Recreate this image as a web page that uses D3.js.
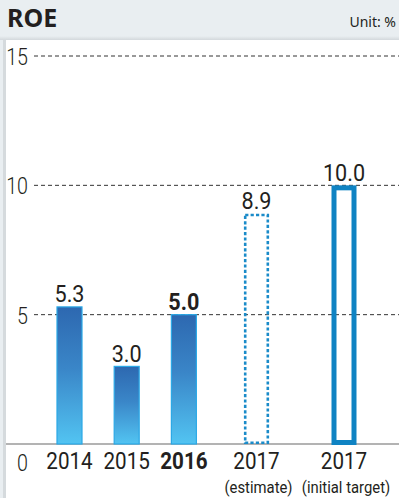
<!DOCTYPE html>
<html><head><meta charset="utf-8">
<script src="https://cdn.jsdelivr.net/npm/d3@7"></script>
<style>
html,body{margin:0;padding:0;background:#e9eef1;}
svg{display:block;}
text{font-family:"Roboto","Noto Sans",sans-serif;fill:#231f20;}
</style></head>
<body>
<svg id="chart" width="399" height="498"></svg>
<script>
const categories = ["2014", "2015", "2016", "2017", "2017"];
const subLabels = ["", "", "", "(estimate)", "(initial target)"];
const values = [5.3, 3.0, 5.0, 8.9, 10.0];
const valueLabels = ["5.3", "3.0", "5.0", "8.9", "10.0"];
const barStyles = ["solid", "solid", "bold", "dotted", "target"];
const yTicks = [0, 5, 10, 15];

const W = 399, H = 498;
const svg = d3.select("#chart");

// condensed text helper (horizontal squeeze around anchor point)
function ctext(g, x, y, str, size, weight, sx, anchor, color) {
  return g.append("text")
    .attr("transform", `translate(${x},${y}) scale(${sx},1)`)
    .attr("text-anchor", anchor || "middle")
    .style("font-size", size + "px")
    .style("font-weight", weight || "400")
    .attr("fill", color || "#231f20")
    .text(str);
}

const defs = svg.append("defs");
const grad = defs.append("linearGradient").attr("id", "barGrad")
  .attr("x1", 0).attr("y1", 0).attr("x2", 0).attr("y2", 1);
grad.append("stop").attr("offset", "0%").attr("stop-color", "#2d68b0");
grad.append("stop").attr("offset", "45%").attr("stop-color", "#3a86c8");
grad.append("stop").attr("offset", "100%").attr("stop-color", "#52c4f2");
const sh = defs.append("linearGradient").attr("id", "shadowTop").attr("x1",0).attr("y1",0).attr("x2",0).attr("y2",1);
sh.append("stop").attr("offset","0%").attr("stop-color","#e9eef1");
sh.append("stop").attr("offset","100%").attr("stop-color","#d3d8dc");

svg.append("rect").attr("x", 0).attr("y", 0).attr("width", W).attr("height", H).attr("fill", "#e9eef1");
svg.append("rect").attr("x", 0).attr("y", 36).attr("width", W).attr("height", 4).attr("fill", "url(#shadowTop)");
svg.append("rect").attr("x", 3).attr("y", 40).attr("width", 3).attr("height", H - 40).attr("fill", "#d5dadd");
svg.append("rect").attr("x", 6).attr("y", 40).attr("width", W - 6).attr("height", H - 40).attr("fill", "#ffffff");

// title
svg.append("text").attr("x", 7).attr("y", 27).text("ROE")
  .style("font-family", "'Noto Sans',sans-serif").style("font-weight", "700").style("font-size", "25px");
svg.append("text").attr("x", 396).attr("y", 27).attr("text-anchor", "end").text("Unit: %")
  .style("font-family", "'Noto Sans',sans-serif").style("font-size", "14px");

// scales
const y = d3.scaleLinear().domain([0, 15]).range([444, 56]);
// slot weights for uneven category spacing (layout, not data)
const slotGaps = [0, 1, 1, 1.27, 1.53];
const cum = d3.cumsum(slotGaps);
const x = d3.scaleLinear().domain([0, cum[cum.length - 1]]).range([69.5, 344]);
const cx = i => x(cum[i]);
const bw = 25;

// gridlines
const grid = svg.append("g");
yTicks.filter(t => t > 0).forEach(t => {
  grid.append("line").attr("x1", 34).attr("x2", 399).attr("y1", y(t)).attr("y2", y(t))
    .attr("stroke", "#333").attr("stroke-width", 1).attr("stroke-dasharray", "4,3");
});
// baseline
svg.append("line").attr("x1", 6).attr("x2", 399).attr("y1", y(0)).attr("y2", y(0))
  .attr("stroke", "#9a9a9a").attr("stroke-width", 1.5);

// y axis labels
const yAxis = d3.axisLeft(y).tickValues(yTicks).tickSize(0).tickPadding(0);
const yg = svg.append("g").attr("transform", "translate(28,0)").call(yAxis);
yg.select(".domain").remove();
yg.selectAll(".tick text").each(function(d) {
  const t = d3.select(this);
  t.attr("x", null).attr("dy", null)
    .attr("transform", `translate(0,${d === 0 ? 26 : 8.5}) scale(0.82,1)`)
    .attr("text-anchor", "end")
    .attr("fill", "#333")
    .style("font-size", "24px").style("font-weight", "300").style("font-family", "Roboto,sans-serif");
});

// bars
const bars = svg.append("g");
const labels = svg.append("g");
values.forEach((v, i) => {
  const style = barStyles[i];
  const c = cx(i);
  if (style === "solid" || style === "bold") {
    bars.append("rect").attr("x", c - bw / 2).attr("y", y(v)).attr("width", bw).attr("height", y(0) - y(v))
      .attr("fill", "url(#barGrad)").attr("stroke", "#2aa8e6").attr("stroke-width", 1.2);
  } else if (style === "dotted") {
    bars.append("rect").attr("x", c - bw / 2 + 1.2).attr("y", y(v) + 1.2).attr("width", bw - 2.4).attr("height", y(0) - y(v) - 2.4)
      .attr("fill", "none").attr("stroke", "#1a8bc9").attr("stroke-width", 2.6).attr("stroke-dasharray", "3.2,2.2");
  } else {
    bars.append("rect").attr("x", c - bw / 2 + 2.5).attr("y", y(v) + 2.5).attr("width", bw - 5).attr("height", y(0) - y(v) - 4)
      .attr("fill", "none").attr("stroke", "#0f83c3").attr("stroke-width", 5);
  }
  const w = style === "bold" ? "700" : "400";
  ctext(labels, c, y(v) - 4.5, valueLabels[i], 24, w, 0.9);
  ctext(labels, c, 469, categories[i], 24, w, 0.86);
  if (subLabels[i]) {
    ctext(labels, c + 2, 493, subLabels[i], 16.5, "400", 0.9);
  }
});
</script>
</body></html>
